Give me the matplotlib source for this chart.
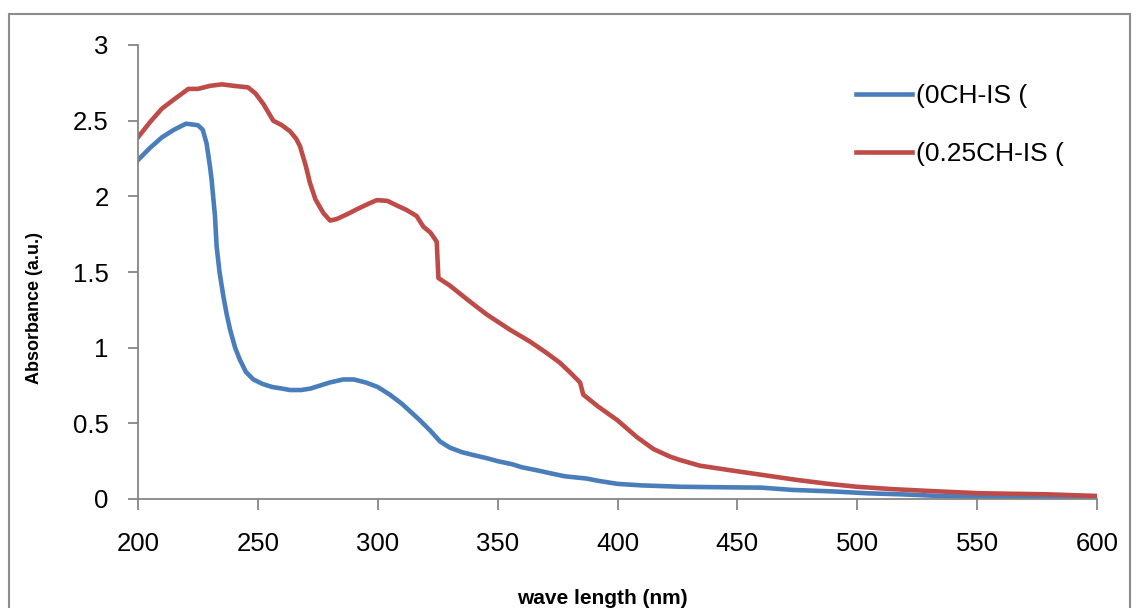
import matplotlib
matplotlib.use("Agg")
import matplotlib.pyplot as plt
from matplotlib.patches import Rectangle

# ---------------- data ----------------
wl_0 = [200, 205, 210, 215, 220, 225, 227, 228.6, 230, 230.7, 232.1, 232.8, 234, 235.6,
        237, 238.4, 240.5, 242.5, 245, 248.1, 252, 256, 260, 263.4, 268, 272, 276, 280,
        285.6, 290, 295, 300, 305, 310, 317.6, 322, 326, 330, 335, 340, 345.4, 350,
        356, 360, 366.3, 372, 378, 387.2, 392, 400, 410, 426, 447, 460, 473, 490, 504,
        520, 537, 560, 579, 600]
abs_0 = [2.24, 2.32, 2.39, 2.44, 2.48, 2.47, 2.44, 2.35, 2.20, 2.11, 1.87, 1.67, 1.50, 1.34,
         1.22, 1.12, 1.00, 0.92, 0.84, 0.79, 0.76, 0.74, 0.73, 0.72, 0.72, 0.73, 0.75, 0.77,
         0.79, 0.79, 0.77, 0.74, 0.69, 0.63, 0.52, 0.45, 0.38, 0.34, 0.31, 0.29, 0.27, 0.25,
         0.23, 0.21, 0.19, 0.17, 0.15, 0.135, 0.12, 0.10, 0.09, 0.081, 0.077, 0.075, 0.06, 0.05, 0.038,
         0.03, 0.018, 0.014, 0.011, 0.01]

wl_25 = [200, 205, 210, 215, 221, 225, 230, 235, 240, 245.9, 249, 252.3, 256.4, 260, 263.4,
         266, 267.6, 270, 271.7, 274, 277.3, 280.1, 282.9, 287, 292, 296, 299.6, 304,
         307.9, 312, 316.2, 319, 322, 324.6, 325.3, 330.1, 338, 345.4, 355, 363.5, 370,
         376, 380, 384.4, 385.7, 392, 400, 408, 415, 421.9, 426, 434.4, 447, 460, 474.8,
         488, 499.8, 515, 530, 551, 579, 600]
abs_25 = [2.39, 2.49, 2.58, 2.64, 2.71, 2.71, 2.73, 2.74, 2.73, 2.72, 2.68, 2.61, 2.50, 2.47, 2.43,
          2.38, 2.33, 2.20, 2.09, 1.98, 1.89, 1.84, 1.85, 1.88, 1.92, 1.95, 1.975, 1.97,
          1.94, 1.91, 1.87, 1.80, 1.76, 1.70, 1.46, 1.41, 1.31, 1.22, 1.12, 1.04, 0.97,
          0.90, 0.84, 0.77, 0.69, 0.61, 0.52, 0.41, 0.33, 0.28, 0.258, 0.22, 0.19, 0.16, 0.126,
          0.10, 0.081, 0.065, 0.053, 0.038, 0.031, 0.02]

series_labels = ["(0CH-IS (", "(0.25CH-IS ("]
x_ticks = [200, 250, 300, 350, 400, 450, 500, 550, 600]
y_ticks = [0, 0.5, 1, 1.5, 2, 2.5, 3]
y_ticklabels = ["0", "0.5", "1", "1.5", "2", "2.5", "3"]

# ---------------- figure ----------------
W, H = 1144, 608
fig = plt.figure(figsize=(W / 100, H / 100), dpi=100)
fig.patch.set_facecolor("white")
plt.rcParams["font.family"] = ["Liberation Sans", "DejaVu Sans"]

# outer chart border
fig.add_artist(Rectangle((9 / W, -0.1), (1130 - 9) / W, 0.1 + (H - 14) / H,
                         transform=fig.transFigure, fill=False,
                         edgecolor="#8c8c8c", linewidth=1.5))

ax = fig.add_axes([138 / W, (H - 499) / H, (1097 - 138) / W, (499 - 45) / H])
ax.plot(wl_0, abs_0, color="#4A7EBB", lw=3.3, label=series_labels[0], solid_joinstyle="round")
ax.plot(wl_25, abs_25, color="#BE4B48", lw=3.3, label=series_labels[1], solid_joinstyle="round")

ax.set_xlim(200, 600)
ax.set_ylim(0, 3)
ax.set_xticks(x_ticks)
ax.set_xticklabels([str(v) for v in x_ticks])
ax.set_yticks(y_ticks)
ax.set_yticklabels(y_ticklabels)

for s in ["top", "right"]:
    ax.spines[s].set_visible(False)
for s in ["left", "bottom"]:
    ax.spines[s].set_color("#868686")
    ax.spines[s].set_linewidth(1.3)

ax.tick_params(axis="x", direction="out", length=8, width=1.3, color="#868686",
               labelsize=18.5, pad=16)
ax.tick_params(axis="y", direction="out", length=7, width=1.3, color="#868686",
               labelsize=18.5, pad=14)

leg = ax.legend(loc="upper left", bbox_to_anchor=(832 / W, (H - 60) / H),
                bbox_transform=fig.transFigure, frameon=False, fontsize=19,
                handlelength=2.15, handletextpad=0.12, labelspacing=1.3)

fig.text(35 / W, (H - 308) / H, "Absorbance (a.u.)", rotation=90, ha="center",
         va="center", fontsize=13, fontweight="bold")
fig.text(602 / W, (H - 598) / H, "wave length (nm)", ha="center", va="center",
         fontsize=15, fontweight="bold")

fig.savefig("out.png", dpi=100)
